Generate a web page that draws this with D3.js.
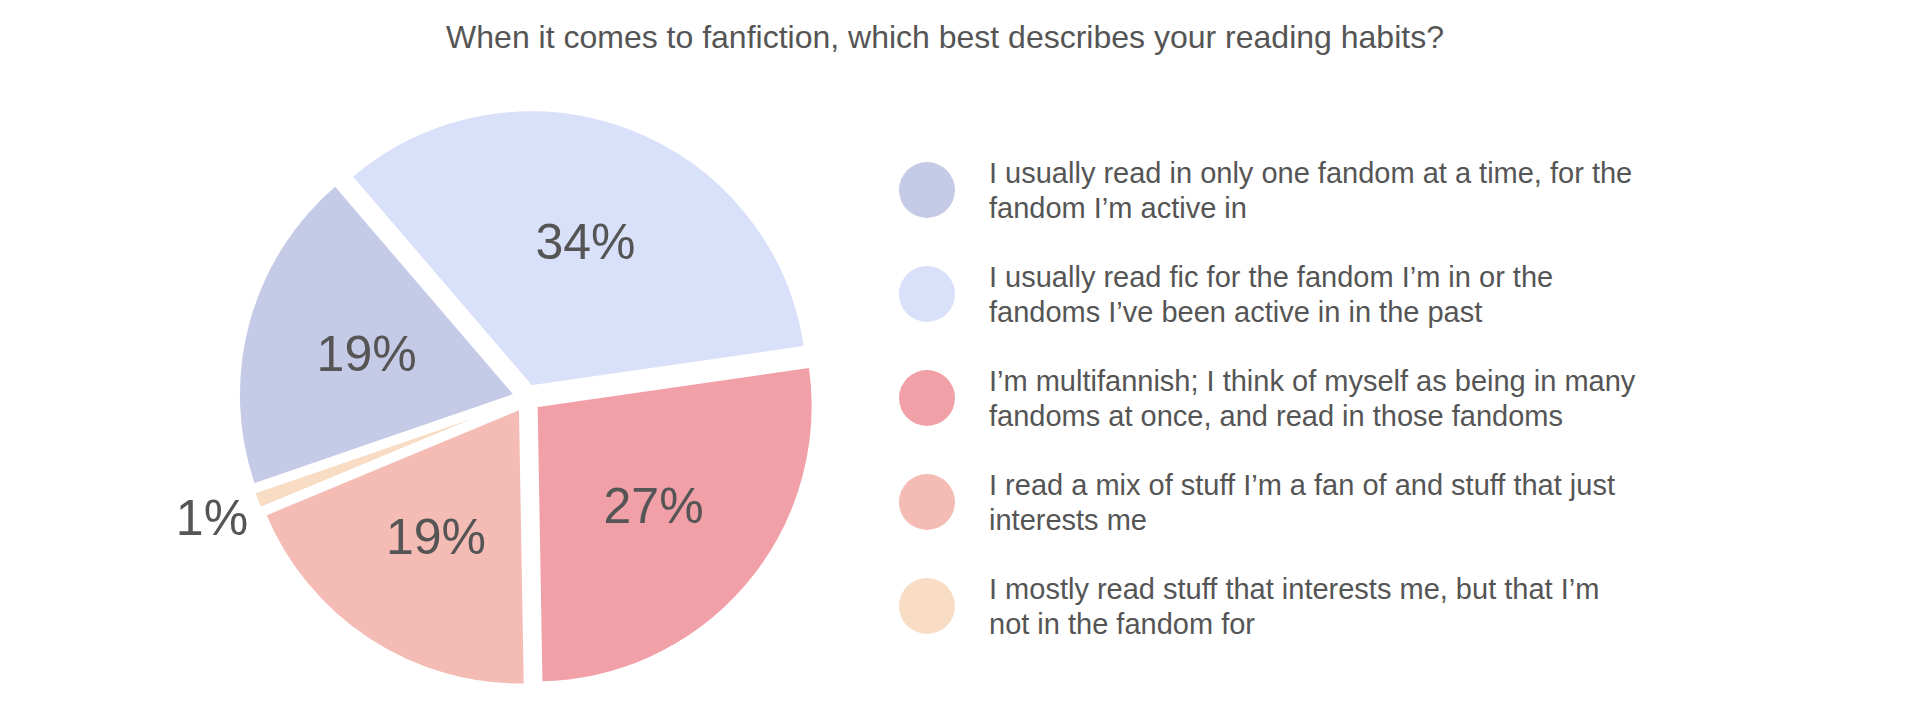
<!DOCTYPE html>
<html><head><meta charset="utf-8">
<script src="https://cdn.jsdelivr.net/npm/d3@7"></script>
<style>body{margin:0;background:#fff}</style></head>
<body><svg id="c" width="1920" height="702"></svg>
<script>
const title = "When it comes to fanfiction, which best describes your reading habits?";
const categories = [
  ["I usually read in only one fandom at a time, for the", "fandom I’m active in"],
  ["I usually read fic for the fandom I’m in or the", "fandoms I’ve been active in in the past"],
  ["I’m multifannish; I think of myself as being in many", "fandoms at once, and read in those fandoms"],
  ["I read a mix of stuff I’m a fan of and stuff that just", "interests me"],
  ["I mostly read stuff that interests me, but that I’m", "not in the fandom for"]
];
const values = [19, 34, 27, 19, 1];
const colors = ["#c5cae6", "#d9e0fa", "#f0a0a6", "#f4bcb5", "#f8dcc4"];

const svg = d3.select("#c");
const font = "Helvetica, Arial, 'Liberation Sans', sans-serif";
svg.append("text").attr("x", 945).attr("y", 48).attr("text-anchor", "middle")
  .attr("font-family", font).attr("font-size", 32).attr("fill", "#555").text(title);

const cx = 527, cy = 398, R = 277, off = 12;
const start = -109 * Math.PI / 180;
const pie = d3.pie().sort(null).startAngle(start).endAngle(start + 2 * Math.PI)(values);
const arc = d3.arc().innerRadius(0).outerRadius(R);
const g = svg.append("g").attr("transform", `translate(${cx},${cy})`);
pie.forEach((d, i) => {
  const m = (d.startAngle + d.endAngle) / 2;
  const dx = Math.sin(m) * off, dy = -Math.cos(m) * off;
  g.append("path").attr("d", arc(d)).attr("fill", colors[i])
    .attr("stroke", "#fff").attr("stroke-width", 3)
    .attr("transform", `translate(${dx},${dy})`);
  const lr = values[i] < 3 ? R + 60 : R * 0.6;
  g.append("text").attr("x", Math.sin(m) * lr).attr("y", -Math.cos(m) * lr)
    .attr("text-anchor", "middle").attr("dominant-baseline", "central")
    .attr("font-family", font).attr("font-size", 50).attr("fill", "#555")
    .text(values[i] + "%");
});

const y = d3.scalePoint().domain(d3.range(categories.length)).range([190, 606]);
categories.forEach((lines, i) => {
  svg.append("circle").attr("cx", 927).attr("cy", y(i)).attr("r", 28).attr("fill", colors[i]);
  lines.forEach((t, j) => {
    svg.append("text").attr("x", 989).attr("y", y(i) - 17 + j * 35 + 10)
      .attr("font-family", font).attr("font-size", 29).attr("fill", "#555").text(t);
  });
});
</script></body></html>
